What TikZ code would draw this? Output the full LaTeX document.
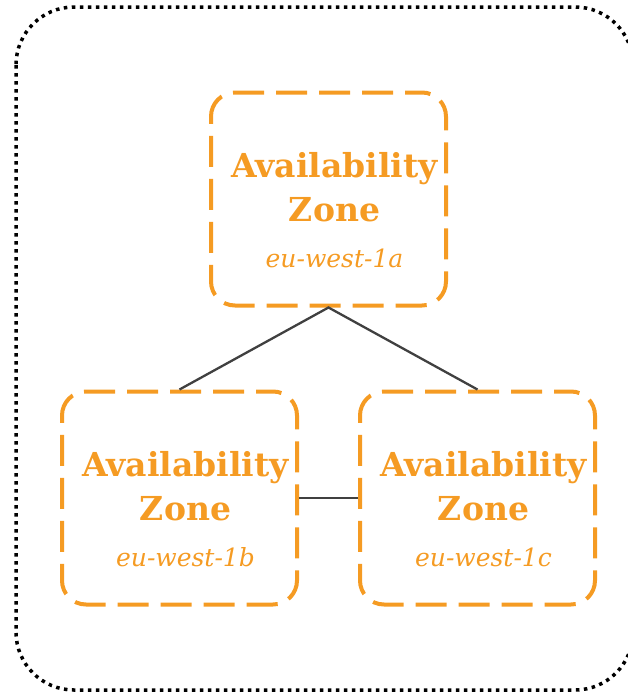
\documentclass[tikz,border=0pt]{standalone}
\usepackage{fontspec}
\setmainfont{DejaVu Serif}
\definecolor{azorange}{RGB}{245,155,35}
\definecolor{linkgray}{RGB}{64,64,64}
\tikzset{
  region/.style={draw=black, line width=3.5pt, dash pattern=on 3.5pt off 4.5pt, rounded corners=58pt},
  zone/.style={draw=azorange, line width=4pt, dash pattern=on 31pt off 12pt, dash phase=14pt,
    rounded corners=24pt, minimum width=235pt, minimum height=213pt, inner sep=0pt},
  zonetext/.style={text=azorange, align=center, inner sep=0pt, anchor=north,
    yshift=-62pt, xshift=6pt, font=\bfseries\fontsize{33}{44}\selectfont},
  link/.style={draw=linkgray, line width=2.3pt},
}
\newcommand{\zonelabel}[1]{Availability\\Zone\\[2pt]{\mdseries\itshape\fontsize{25}{30}\selectfont #1}}
\begin{document}
\begin{tikzpicture}[x=1pt,y=-1pt]
  \useasboundingbox (0,0) rectangle (628,694);
  % region outline, running past the right edge
  \begin{scope}
    \clip (0,0) rectangle (628,694);
    \draw[region] (16,7) rectangle (633,690);
  \end{scope}
  % availability zones
  \node[zone] (za) at (328.5,199) {};
  \node[zone] (zb) at (179.5,498) {};
  \node[zone] (zc) at (477.5,498) {};
  \node[zonetext] (ta) at (za.north) {\zonelabel{eu-west-1a}};
  \node[zonetext] (tb) at (zb.north) {\zonelabel{eu-west-1b}};
  \node[zonetext] (tc) at (zc.north) {\zonelabel{eu-west-1c}};
  % links between zones
  \draw[link] (zb.north) -- (za.south) -- (zc.north);
  \draw[link] (zb.east) -- (zc.west);
\end{tikzpicture}
\end{document}
